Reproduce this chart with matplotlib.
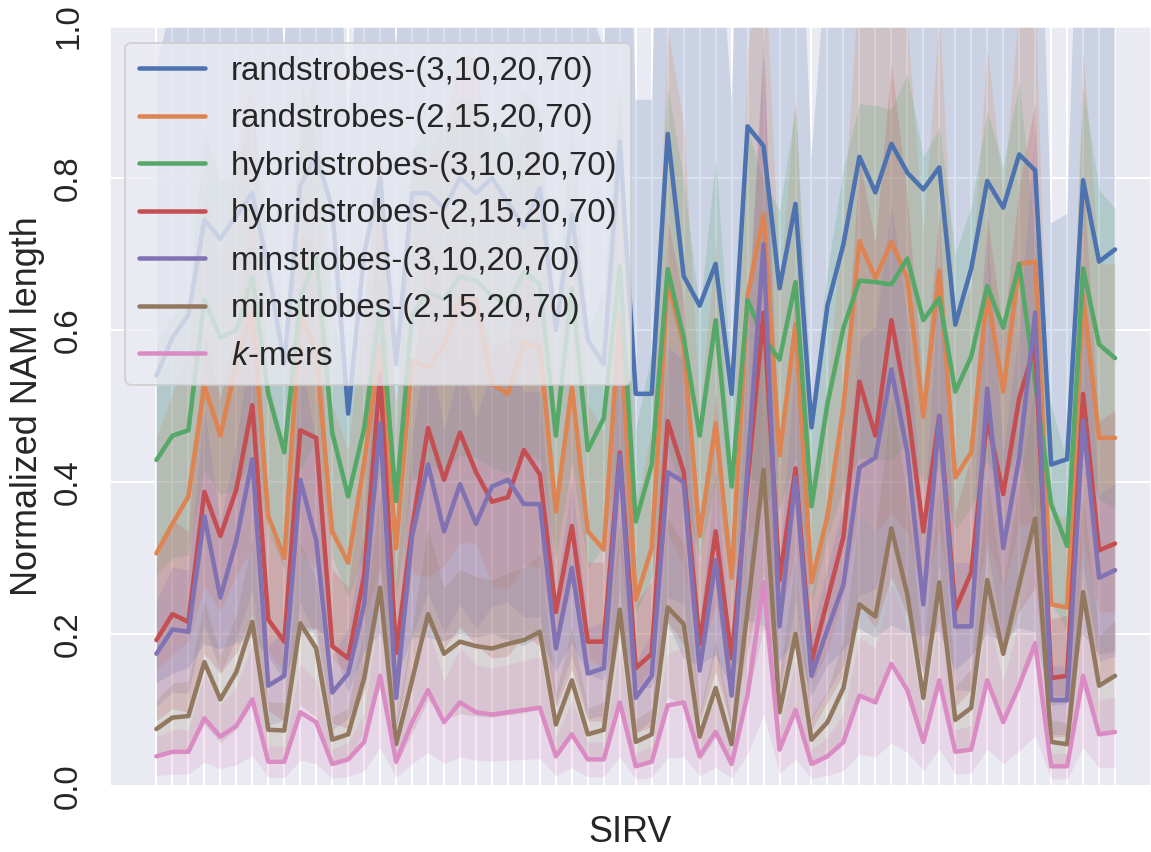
import numpy as np
import matplotlib.pyplot as plt
import seaborn as sns

# ==============================
# Data (mean normalized NAM length per SIRV)
# ==============================
rand_3_10 = [0.54, 0.59, 0.62, 0.745, 0.72, 0.75, 0.78, 0.68, 0.555, 0.79,
             0.83, 0.76, 0.49, 0.70, 0.80, 0.555, 0.78, 0.78, 0.76, 0.80,
             0.78, 0.80, 0.768, 0.735, 0.787, 0.60, 0.752, 0.587, 0.555, 0.848,
             0.516, 0.516, 0.858, 0.671, 0.632, 0.687, 0.516, 0.868, 0.842, 0.655,
             0.766, 0.472, 0.632, 0.713, 0.828, 0.781, 0.845, 0.807, 0.785, 0.814,
             0.607, 0.681, 0.796, 0.761, 0.831, 0.81, 0.423, 0.43, 0.797, 0.69, 0.706]
rand_2_15 = [0.306, 0.345, 0.381, 0.526, 0.461, 0.555, 0.626, 0.355, 0.30, 0.62,
             0.57, 0.335, 0.294, 0.426, 0.58, 0.313, 0.56, 0.55, 0.58, 0.64,
             0.64, 0.529, 0.516, 0.584, 0.577, 0.361, 0.526, 0.335, 0.311, 0.62,
             0.245, 0.313, 0.665, 0.58, 0.329, 0.477, 0.274, 0.645, 0.752, 0.435,
             0.608, 0.268, 0.355, 0.50, 0.717, 0.668, 0.716, 0.668, 0.486, 0.678,
             0.406, 0.439, 0.648, 0.519, 0.687, 0.69, 0.239, 0.235, 0.645, 0.458, 0.458]
hybrid_3_10 = [0.429, 0.461, 0.468, 0.64, 0.59, 0.60, 0.67, 0.516, 0.439, 0.64,
               0.70, 0.465, 0.381, 0.47, 0.63, 0.375, 0.62, 0.65, 0.64, 0.67,
               0.665, 0.645, 0.632, 0.677, 0.66, 0.461, 0.655, 0.442, 0.484, 0.684,
               0.348, 0.423, 0.68, 0.59, 0.461, 0.613, 0.394, 0.639, 0.59, 0.561,
               0.663, 0.368, 0.503, 0.603, 0.665, 0.663, 0.66, 0.694, 0.613, 0.642,
               0.519, 0.565, 0.658, 0.603, 0.687, 0.53, 0.371, 0.316, 0.681, 0.581, 0.563]
hybrid_2_15 = [0.192, 0.226, 0.216, 0.387, 0.329, 0.390, 0.501, 0.219, 0.190, 0.468,
               0.458, 0.184, 0.168, 0.277, 0.542, 0.175, 0.339, 0.471, 0.403, 0.465,
               0.413, 0.374, 0.38, 0.442, 0.41, 0.229, 0.342, 0.19, 0.19, 0.439,
               0.155, 0.174, 0.48, 0.413, 0.187, 0.335, 0.168, 0.40, 0.623, 0.271,
               0.418, 0.163, 0.245, 0.328, 0.532, 0.461, 0.613, 0.50, 0.335, 0.487,
               0.232, 0.281, 0.484, 0.384, 0.51, 0.58, 0.142, 0.145, 0.516, 0.31, 0.319]
min_3_10 = [0.174, 0.206, 0.203, 0.355, 0.248, 0.323, 0.430, 0.132, 0.145, 0.403,
            0.323, 0.123, 0.148, 0.239, 0.477, 0.116, 0.329, 0.423, 0.335, 0.397,
            0.345, 0.394, 0.403, 0.371, 0.371, 0.181, 0.287, 0.148, 0.155, 0.435,
            0.116, 0.145, 0.413, 0.40, 0.152, 0.297, 0.119, 0.42, 0.713, 0.21,
            0.406, 0.145, 0.206, 0.265, 0.419, 0.432, 0.548, 0.439, 0.239, 0.487,
            0.21, 0.21, 0.523, 0.313, 0.432, 0.623, 0.113, 0.113, 0.481, 0.274, 0.284]
min_2_15 = [0.075, 0.090, 0.092, 0.163, 0.114, 0.150, 0.216, 0.074, 0.073, 0.214,
            0.181, 0.061, 0.068, 0.142, 0.261, 0.055, 0.139, 0.226, 0.174, 0.190,
            0.184, 0.181, 0.187, 0.192, 0.203, 0.081, 0.139, 0.068, 0.074, 0.232,
            0.058, 0.068, 0.235, 0.213, 0.065, 0.129, 0.055, 0.232, 0.416, 0.097,
            0.20, 0.061, 0.084, 0.129, 0.239, 0.223, 0.339, 0.252, 0.116, 0.268,
            0.087, 0.103, 0.271, 0.174, 0.265, 0.352, 0.058, 0.055, 0.255, 0.132, 0.145]
kmers = [0.039, 0.045, 0.045, 0.089, 0.065, 0.079, 0.114, 0.032, 0.032, 0.097,
         0.084, 0.029, 0.035, 0.058, 0.145, 0.032, 0.084, 0.126, 0.084, 0.110,
         0.097, 0.094, 0.097, 0.10, 0.103, 0.039, 0.068, 0.035, 0.035, 0.11,
         0.026, 0.032, 0.106, 0.11, 0.039, 0.071, 0.029, 0.12, 0.268, 0.048,
         0.10, 0.029, 0.039, 0.058, 0.119, 0.11, 0.161, 0.126, 0.058, 0.139,
         0.045, 0.048, 0.139, 0.084, 0.132, 0.188, 0.026, 0.026, 0.145, 0.068, 0.071]

labels = ['randstrobes-(3,10,20,70)', 'randstrobes-(2,15,20,70)',
          'hybridstrobes-(3,10,20,70)', 'hybridstrobes-(2,15,20,70)',
          'minstrobes-(3,10,20,70)', 'minstrobes-(2,15,20,70)', '$k$-mers']
series = [rand_3_10, rand_2_15, hybrid_3_10, hybrid_2_15, min_3_10, min_2_15, kmers]

# relative half-width of the confidence band, estimated per method
ci_rel = [0.75, 0.5, 0.35, 0.55, 0.4, 0.5, 0.65]

# ==============================
# Style
# ==============================
sns.set_theme(style='darkgrid', context='notebook', font_scale=1.5)
plt.rcParams['font.family'] = ['Liberation Sans', 'DejaVu Sans']
plt.rcParams['mathtext.fontset'] = 'custom'
plt.rcParams['mathtext.it'] = 'Liberation Sans:italic'
plt.rcParams['mathtext.rm'] = 'Liberation Sans'
colors = sns.color_palette('deep', len(series))

# ==============================
# Plot
# ==============================
fig = plt.figure(figsize=(1151 / 144, 852 / 144), dpi=144)
ax = fig.add_axes([109 / 1151, 66 / 852, 1042 / 1151, 760 / 852])

x = np.arange(len(kmers))
for vals, rel, lab, col in zip(series, ci_rel, labels, colors):
    m = np.array(vals)
    ax.plot(x, m, color=col, lw=2.25, label=lab)
    ax.fill_between(x, m * (1 - rel), m * (1 + rel), color=col, alpha=0.2, linewidth=0)

ax.set_xticks(x)
ax.set_xticklabels([])
ax.set_xlim(-2.97, 62.25)
ax.set_ylim(0, 1)
ax.set_yticks([0.0, 0.2, 0.4, 0.6, 0.8, 1.0])
ax.set_yticklabels(['0.0', '0.2', '0.4', '0.6', '0.8', '1.0'], rotation=90, va='center')
ax.tick_params(axis='y', pad=6.5)
ax.set_xlabel('SIRV', labelpad=5)
ax.set_ylabel('Normalized NAM length', labelpad=4)
ax.legend(loc='upper left')

fig.savefig('out.png', dpi=144)
